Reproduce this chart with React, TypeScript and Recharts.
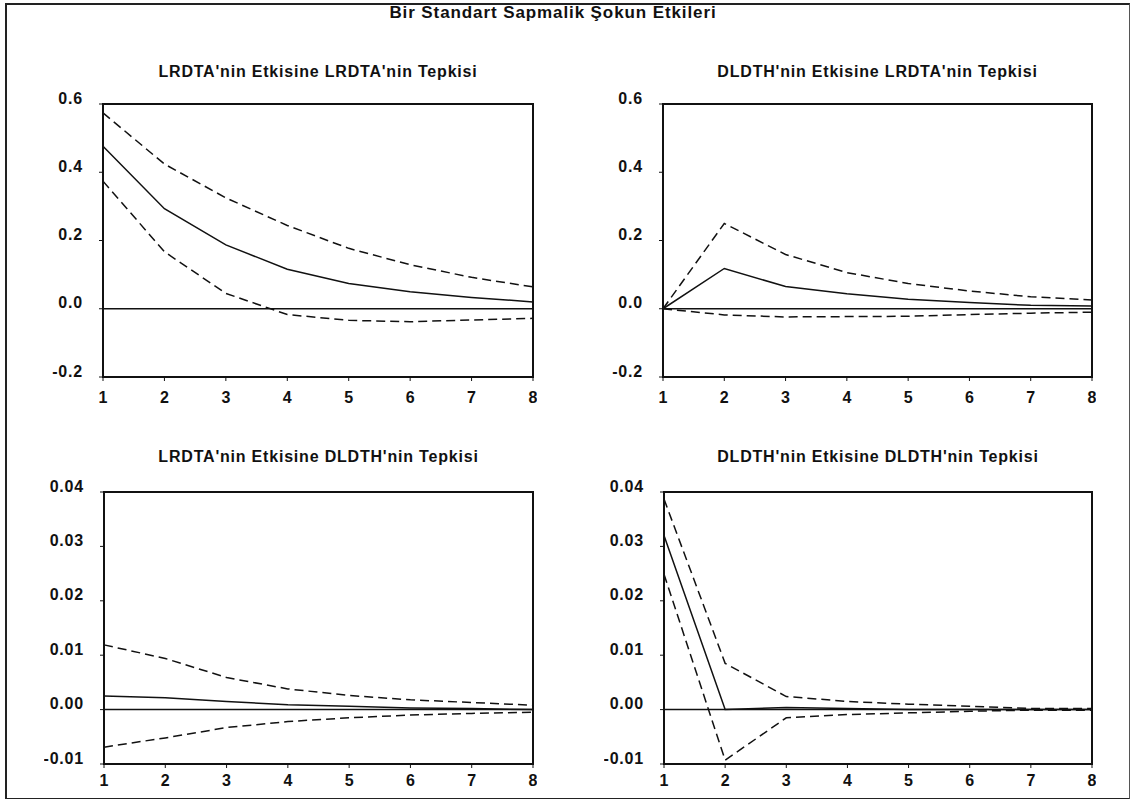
import { LineChart, Line, XAxis, YAxis, ReferenceLine, ReferenceArea } from 'recharts'

const periods = [1, 2, 3, 4, 5, 6, 7, 8]

// LRDTA shock -> LRDTA response
const llMid = [0.476, 0.293, 0.187, 0.116, 0.074, 0.05, 0.033, 0.02]
const llUpper = [0.574, 0.424, 0.325, 0.244, 0.177, 0.129, 0.092, 0.064]
const llLower = [0.374, 0.167, 0.045, -0.017, -0.034, -0.038, -0.033, -0.028]

// DLDTH shock -> LRDTA response
const dlMid = [0.0, 0.118, 0.065, 0.044, 0.028, 0.018, 0.01, 0.008]
const dlUpper = [0.0, 0.25, 0.159, 0.106, 0.074, 0.052, 0.035, 0.026]
const dlLower = [0.0, -0.018, -0.024, -0.023, -0.022, -0.017, -0.013, -0.01]

// LRDTA shock -> DLDTH response
const ldMid = [0.0025, 0.0022, 0.0015, 0.0009, 0.0006, 0.0003, 0.0002, 0.0]
const ldUpper = [0.0119, 0.0094, 0.0059, 0.0038, 0.0026, 0.0018, 0.0013, 0.0008]
const ldLower = [-0.0069, -0.0052, -0.0033, -0.0022, -0.0015, -0.001, -0.0007, -0.0005]

// DLDTH shock -> DLDTH response
const ddMid = [0.032, 0.0, 0.0004, 0.0002, 0.0, 0.0, 0.0, 0.0]
const ddUpper = [0.0387, 0.0085, 0.0024, 0.0015, 0.001, 0.0006, 0.0002, 0.0002]
const ddLower = [0.0249, -0.0093, -0.0015, -0.0009, -0.0006, -0.0003, -0.0001, -0.0001]

const topTicks = [-0.2, 0.0, 0.2, 0.4, 0.6]
const bottomTicks = [-0.01, 0.0, 0.01, 0.02, 0.03, 0.04]

const FONT = '"Liberation Sans", Arial, sans-serif'
const YW = 60
const MT = 22

const toRows = (mid: number[], up: number[], lo: number[]) =>
  periods.map((p, i) => ({ period: p, mid: mid[i], up: up[i], lo: lo[i] }))

interface PanelProps {
  title: string
  left: number
  top: number
  plotW: number
  plotH: number
  ticks: number[]
  digits: number
  rows: { period: number; mid: number; up: number; lo: number }[]
  xGap: number
  titleY: number
}

function Panel({ title, left, top, plotW, plotH, ticks, digits, rows, xGap, titleY }: PanelProps) {
  const lo = ticks[0]
  const hi = ticks[ticks.length - 1]

  const yTick = (p: any) => (
    <text x={p.x} y={p.y - 6} textAnchor="end" dominantBaseline="central"
      fontFamily={FONT} fontWeight="bold" fontSize={16} letterSpacing={0.8} fill="#111">
      {Number(p.payload.value).toFixed(digits)}
    </text>
  )
  const xTick = (p: any) => (
    <text x={p.x} y={p.y - 4 + xGap} textAnchor="middle" dominantBaseline="central"
      fontFamily={FONT} fontWeight="bold" fontSize={16} fill="#111">
      {p.payload.value}
    </text>
  )

  return (
    <>
      <div style={{
        position: 'absolute', left, top: titleY - 10, width: plotW, textAlign: 'center',
        fontFamily: FONT, fontWeight: 'bold', fontSize: 16, letterSpacing: 0.8, lineHeight: '20px', color: '#111'
      }}>
        {title}
      </div>
      <div style={{ position: 'absolute', left: left - YW, top: top - MT }}>
        <LineChart width={YW + plotW + 4} height={MT + plotH + 40} data={rows}
          margin={{ top: MT, right: 4, bottom: 0, left: 0 }}>
          <XAxis dataKey="period" type="number" domain={[1, 8]} ticks={periods} height={40}
            tickSize={4} tickMargin={0} tick={xTick}
            axisLine={{ stroke: '#111', strokeWidth: 2 }} tickLine={{ stroke: '#111' }} />
          <YAxis type="number" domain={[lo, hi]} ticks={ticks} width={YW} allowDataOverflow
            tickSize={4} tickMargin={16} tick={yTick}
            axisLine={{ stroke: '#111', strokeWidth: 2 }} tickLine={{ stroke: '#111' }} />
          <ReferenceArea x1={1} x2={8} y1={lo} y2={hi} fill="none" stroke="#111" strokeWidth={2} />
          <ReferenceLine y={0} stroke="#111" strokeWidth={1.5} />
          <Line dataKey="up" stroke="#111" strokeWidth={1.5} strokeDasharray="9 5" dot={false} isAnimationActive={false} />
          <Line dataKey="lo" stroke="#111" strokeWidth={1.5} strokeDasharray="9 5" dot={false} isAnimationActive={false} />
          <Line dataKey="mid" stroke="#111" strokeWidth={1.5} dot={false} isAnimationActive={false} />
        </LineChart>
      </div>
    </>
  )
}

export default function App() {
  return (
    <div style={{ position: 'absolute', left: 0, top: 0, width: 1131, height: 799, background: '#fff' }}>
      <div style={{
        position: 'absolute', left: 5, top: 3, width: 1122, height: 793,
        border: '2px solid #222', borderRight: '1px solid #555'
      }} />
      <div style={{
        position: 'absolute', left: 0, top: 3, width: 1106, textAlign: 'center',
        fontFamily: FONT, fontWeight: 'bold', fontSize: 17, letterSpacing: 0.9, lineHeight: '20px', color: '#111'
      }}>
        Bir Standart Sapmalik Şokun Etkileri
      </div>
      <Panel title="LRDTA'nin Etkisine LRDTA'nin Tepkisi" left={103} top={104} plotW={430} plotH={273}
        ticks={topTicks} digits={1} rows={toRows(llMid, llUpper, llLower)} xGap={20} titleY={72} />
      <Panel title="DLDTH'nin Etkisine LRDTA'nin Tepkisi" left={663} top={104} plotW={429} plotH={273}
        ticks={topTicks} digits={1} rows={toRows(dlMid, dlUpper, dlLower)} xGap={20} titleY={72} />
      <Panel title="LRDTA'nin Etkisine DLDTH'nin Tepkisi" left={104} top={492} plotW={429} plotH={272}
        ticks={bottomTicks} digits={2} rows={toRows(ldMid, ldUpper, ldLower)} xGap={16} titleY={457} />
      <Panel title="DLDTH'nin Etkisine DLDTH'nin Tepkisi" left={664} top={492} plotW={428} plotH={272}
        ticks={bottomTicks} digits={2} rows={toRows(ddMid, ddUpper, ddLower)} xGap={16} titleY={457} />
    </div>
  )
}
